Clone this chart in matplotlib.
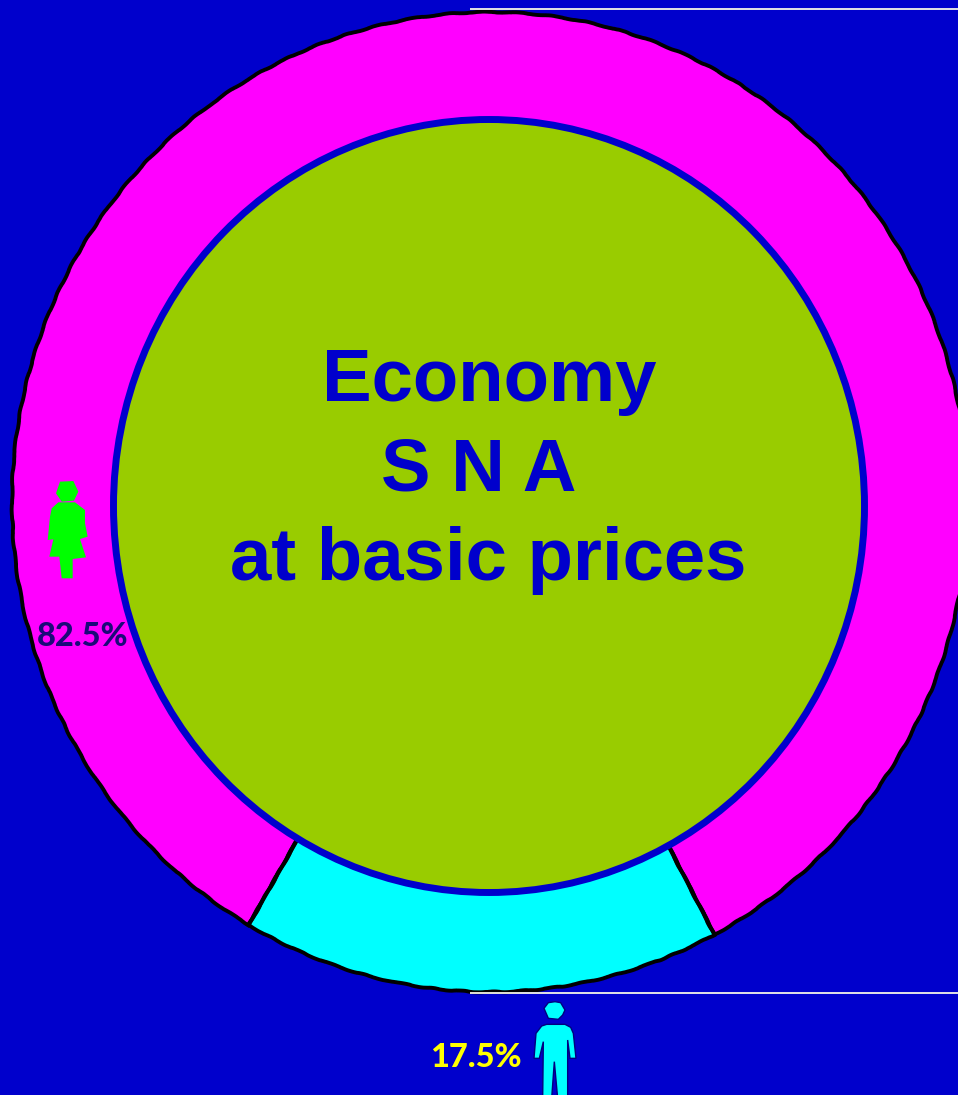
import numpy as np
import matplotlib
matplotlib.use("Agg")
import matplotlib.pyplot as plt
from matplotlib.patches import Ellipse, Polygon

W, H = 958, 1095

# shares as the slices are drawn in the picture (the printed labels differ a little)
slice_names = ["women", "men"]
slice_shares = [83.8, 16.2]
slice_colors = ["#FF00FF", "#00FFFF"]
women_label = "82.5%"
men_label = "17.5%"
center_lines = ["Economy", "S N A", "at basic prices"]
center_x = [489, 479, 488]
center_y = [401, 491, 580]

BG = "#0000CC"
OLIVE = "#99CC00"

# pictograms (3x crop coords)
woman_head = [(180, 65), (220, 63), (235, 95), (222, 122), (185, 125), (168, 100)]
woman_body = [(175, 127), (225, 127), (255, 150), (255, 190), (263, 230), (240, 237),
              (258, 292), (218, 297), (218, 355), (185, 355), (178, 290), (148, 290),
              (160, 238), (143, 240), (150, 170), (155, 145)]
man_head = [(432, 115), (445, 98), (465, 95), (482, 98), (495, 120), (488, 135), (475, 148), (445, 145)]
man_body = [(425, 168), (440, 163), (495, 163), (512, 172), (520, 190), (528, 265), (510, 265), (503, 210),
            (503, 385), (473, 385), (463, 275), (455, 385), (428, 385), (430, 215),
            (418, 265), (402, 265), (408, 190)]


def crop_to_px(pts, x0, y0):
    pts = np.array(pts, dtype=float) / 3
    return pts + [x0, y0]


fig = plt.figure(figsize=(W / 100, H / 100), dpi=100, facecolor=BG)

# pie axes: box is the outer ellipse, so the ring is slightly squashed like the original
cx, cy, rx, ry = 490, 502, 478, 490
start = 298
ax_pie = fig.add_axes([(cx - rx) / W, 1 - (cy + ry) / H, 2 * rx / W, 2 * ry / H])
wedges, _ = ax_pie.pie(slice_shares, colors=slice_colors, startangle=start,
                       radius=1, wedgeprops=dict(edgecolor="black", linewidth=2.8))
# the original outline is hand-drawn and a bit wobbly
for w in wedges:
    w.set_sketch_params(scale=0.5, length=40, randomness=3)
# straight spokes between the slices
for a in (start, start + 360 * slice_shares[0] / 100):
    t = np.deg2rad(a)
    ax_pie.plot([0, np.cos(t)], [0, np.sin(t)], color="black", lw=2.8)
ax_pie.set_aspect("auto")
ax_pie.set_xlim(-1, 1)
ax_pie.set_ylim(-1, 1)
ax_pie.axis("off")

# overlay in image pixels
ax = fig.add_axes([0, 0, 1, 1], facecolor="none")
ax.set_xlim(0, W)
ax.set_ylim(H, 0)
ax.axis("off")

ax.add_patch(Ellipse((489, 506), 751, 773, facecolor=OLIVE, edgecolor=BG, linewidth=5))

ax.plot([470, W], [9, 9], color="#F4F4E8", lw=1.3, solid_capstyle="butt")
ax.plot([470, W], [992.5, 992.5], color="#F4F4E8", lw=1.3, solid_capstyle="butt")

for line, x, y in zip(center_lines, center_x, center_y):
    ax.text(x, y, line, ha="center", va="baseline", color=BG, fontsize=53.6,
            fontweight="bold", family="Liberation Sans")

ax.text(83, 646, women_label, ha="center", va="baseline", color="#1B0A78", fontsize=23.5,
        fontweight="black", family="Lato")
ax.text(476, 1067, men_label, ha="center", va="baseline", color="#FFFF00", fontsize=23.5,
        fontweight="black", family="Lato")

for pts in (woman_head, woman_body):
    ax.add_patch(Polygon(crop_to_px(pts, 0, 460), closed=True, facecolor="#00FF00", edgecolor="none"))
for pts in (man_head, man_body):
    ax.add_patch(Polygon(crop_to_px(pts, 400, 970), closed=True, facecolor="#00FFFF",
                         edgecolor="#000080", linewidth=1))

fig.savefig("out.png", dpi=100, facecolor=BG)
